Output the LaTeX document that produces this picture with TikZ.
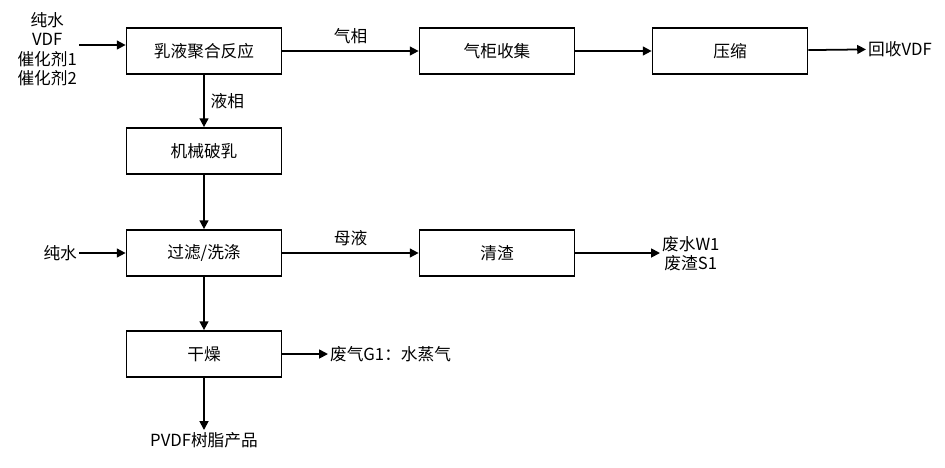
\documentclass[tikz,border=0pt]{standalone}
\usepackage{fontspec}
\setmainfont{Noto Sans CJK SC}
\usetikzlibrary{arrows.meta,positioning}
\tikzset{
  procbox/.style={draw, line width=1pt, minimum width=3.1cm, minimum height=0.92cm},
  flow/.style={-{Triangle[length=5pt,width=5pt]}, line width=1pt},
  lbl/.style={inner sep=1pt, align=center}
}
\begin{document}
\begin{tikzpicture}[x=0.02cm, y=-0.02cm, font=\fontsize{9.5}{11}\selectfont]
  \useasboundingbox (0,0) rectangle (945,467);
  \node[procbox] (react) at (204,51) {乳液聚合反应};
  \node[procbox] (gas) at (497,51) {气柜收集};
  \node[procbox] (comp) at (730,51) {压缩};
  \node[procbox] (demul) at (204,151) {机械破乳};
  \node[procbox] (filt) at (204,253) {过滤/洗涤};
  \node[procbox] (slag) at (497,253) {清渣};
  \node[procbox] (dry) at (204,354) {干燥};

  \node[lbl, anchor=east] (feed) at (79,49) {纯水\\VDF\\催化剂1\\催化剂2};
  \node[lbl, anchor=west] (vdf) at (866,49) {回收VDF};
  \node[lbl, anchor=east] (water) at (79,253) {纯水};
  \node[lbl, anchor=west] (waste) at (660,254) {废水W1\\废渣S1};
  \node[lbl, anchor=west] (steam) at (328,354) {废气G1：水蒸气};
  \node[lbl, anchor=north] (prod) at (204,430) {PVDF树脂产品};

  \draw[flow] (feed.east |- 0,45) -- (react.west |- 0,45);
  \draw[flow] (react) -- node[above] {气相} (gas);
  \draw[flow] (gas) -- (comp);
  \draw[flow] (comp) -- (vdf);
  \draw[flow] (react) -- node[right] {液相} (demul);
  \draw[flow] (demul) -- (filt);
  \draw[flow] (water) -- (filt);
  \draw[flow] (filt) -- node[above] {母液} (slag);
  \draw[flow] (slag.east) -- (waste.west |- slag.east);
  \draw[flow] (filt) -- (dry);
  \draw[flow] (dry) -- (steam);
  \draw[flow] (dry) -- (prod);
\end{tikzpicture}
\end{document}
